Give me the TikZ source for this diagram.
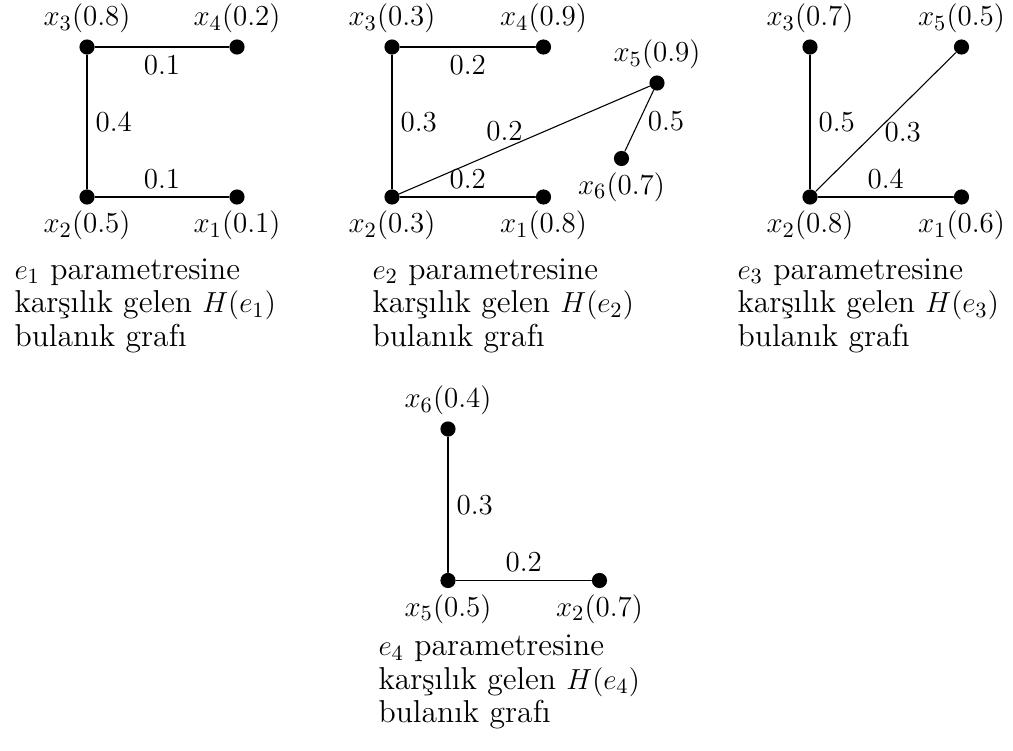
\documentclass[tikz,border=0pt]{standalone}
\begin{document}
\begin{tikzpicture}[x=0.727cm, y=0.727cm, line join=round, line cap=round, line width=0.45pt,
		font=\fontsize{12.6}{14}\selectfont,
		dot/.style={circle,fill=black,inner sep=0pt,minimum size=0.22cm},
		lab/.style={label distance=-0.04cm},
		caption/.style={anchor=north west,align=left,inner sep=0pt,font=\fontsize{13.1}{13.85}\selectfont}]
	\useasboundingbox (-1.74,-11.08) rectangle (18.52,3.94);
	% H(e_1)
	\begin{scope}
		\node[dot,label={[lab]below:$x_2(0.5)$}] (ax2) at (0,0) {};
		\node[dot,label={[lab]below:$x_1(0.1)$}] (ax1) at (3,0) {};
		\node[dot,label={[lab]above:$x_3(0.8)$}] (ax3) at (0,3) {};
		\node[dot,label={[lab]above:$x_4(0.2)$}] (ax4) at (3,3) {};
		\draw (ax3) -- node[below]{$0.1$} (ax4);
		\draw (ax3) -- node[right]{$0.4$} (ax2);
		\draw (ax2) -- node[above]{$0.1$} (ax1);
		\node[caption] (acap) at (-1.46,-1.22) {$e_1$ parametresine\\karşılık gelen $H(e_1)$\\bulanık grafı};
	\end{scope}
	% H(e_2)
	\begin{scope}[shift={(6.1,0)}]
		\node[dot,label={[lab]below:$x_2(0.3)$}] (bx2) at (0,0) {};
		\node[dot,label={[lab]below:$x_1(0.8)$}] (bx1) at (3.03,0) {};
		\node[dot,label={[lab]above:$x_3(0.3)$}] (bx3) at (0,3) {};
		\node[dot,label={[lab]above:$x_4(0.9)$}] (bx4) at (3.03,3) {};
		\node[dot,label={[lab]above:$x_5(0.9)$}] (bx5) at (5.3,2.28) {};
		\node[dot,label={[lab]below:$x_6(0.7)$}] (bx6) at (4.59,0.77) {};
		\draw (bx3) -- node[below]{$0.2$} (bx4);
		\draw (bx3) -- node[right]{$0.3$} (bx2);
		\draw (bx2) -- node[above]{$0.2$} (bx1);
		\draw (bx2) -- node[pos=0.42,above]{$0.2$} (bx5);
		\draw (bx5) -- node[right]{$0.5$} (bx6);
		\node[caption] (bcap) at (-0.4,-1.22) {$e_2$ parametresine\\karşılık gelen $H(e_2)$\\bulanık grafı};
	\end{scope}
	% H(e_3)
	\begin{scope}[shift={(14.46,0)}]
		\node[dot,label={[lab]below:$x_2(0.8)$}] (cx2) at (0,0) {};
		\node[dot,label={[lab]below:$x_1(0.6)$}] (cx1) at (3.03,0) {};
		\node[dot,label={[lab]above:$x_3(0.7)$}] (cx3) at (0,3) {};
		\node[dot,label={[lab]above:$x_5(0.5)$}] (cx5) at (3.03,3) {};
		\draw (cx3) -- node[right]{$0.5$} (cx2);
		\draw (cx2) -- node[pos=0.43,right]{$0.3$} (cx5);
		\draw (cx2) -- node[above]{$0.4$} (cx1);
		\node[caption] (ccap) at (-1.46,-1.22) {$e_3$ parametresine\\karşılık gelen $H(e_3)$\\bulanık grafı};
	\end{scope}
	% H(e_4)
	\begin{scope}[shift={(7.22,-7.67)}]
		\node[dot,label={[lab]below:$x_5(0.5)$}] (dx5) at (0,0) {};
		\node[dot,label={[lab]below:$x_2(0.7)$}] (dx2) at (3.03,0) {};
		\node[dot,label={[lab]above:$x_6(0.4)$}] (dx6) at (0,3.03) {};
		\draw (dx6) -- node[right]{$0.3$} (dx5);
		\draw (dx5) -- node[above]{$0.2$} (dx2);
		\node[caption] (dcap) at (-1.4,-1.08) {$e_4$ parametresine\\karşılık gelen $H(e_4)$\\bulanık grafı};
	\end{scope}
\end{tikzpicture}
\end{document}
